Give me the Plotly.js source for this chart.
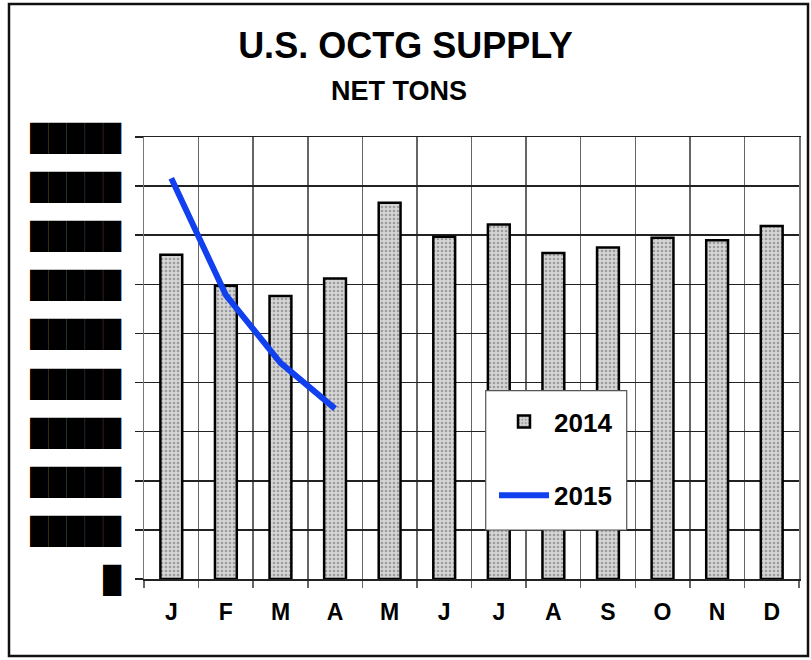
<!DOCTYPE html>
<html>
<head>
<meta charset="utf-8">
<script src="https://cdn.plot.ly/plotly-3.0.1.min.js"></script>
<style>html,body{margin:0;padding:0;background:#fff;}#chart{width:811px;height:660px;}</style>
</head>
<body>
<div id="chart"></div>
<script>
// Data
const months = ['Jan','Feb','Mar','Apr','May','Jun','Jul','Aug','Sep','Oct','Nov','Dec'];
const monthLabels = ['J','F','M','A','M','J','J','A','S','O','N','D'];
const supply2014 = [660000, 597000, 576000, 612000, 766000, 697000, 722000, 664000, 675000, 695000, 690000, 719000];
const months2015 = ['Jan','Feb','Mar','Apr'];
const supply2015 = [816000, 578000, 440000, 347000];
const yTickVals = [0, 100000, 200000, 300000, 400000, 500000, 600000, 700000, 800000, 900000];
// tick labels are redacted (blacked out) in the source image
const B5 = '\u2588\u2588\u2588\u2588\u2588';
const yTickText = ['\u2588', B5, B5, B5, B5, B5, B5, B5, B5, B5];

const FONT = 'Liberation Sans, Arial, sans-serif';

const traces = [
  {
    type: 'bar', name: '2014', x: months, y: supply2014,
    legendgroup: 'a',
    marker: {
      color: '#d4d4d4',
      line: {color: '#000', width: 2.5},
      pattern: {shape: '.', bgcolor: '#d6d6d6', fgcolor: '#9c9c9c', size: 4, solidity: 0.35, fillmode: 'replace'}
    },
    hoverinfo: 'x+y'
  },
  {
    type: 'scatter', mode: 'lines', name: '2015', x: months2015, y: supply2015,
    legendgroup: 'b',
    line: {color: '#1141ee', width: 6}
  }
];

const layout = {
  width: 811, height: 660,
  margin: {l: 144, r: 12, t: 137, b: 81},
  paper_bgcolor: '#fff', plot_bgcolor: '#fff',
  font: {family: FONT, color: '#000'},
  bargap: 0.6,
  title: {
    text: 'U.S. OCTG SUPPLY',
    font: {family: FONT, size: 36, weight: 700, color: '#000'},
    x: 0.5, xref: 'container', xanchor: 'center',
    y: 1 - 45/660, yref: 'container', yanchor: 'middle'
  },
  annotations: [{
    text: 'NET TONS', showarrow: false,
    xref: 'paper', yref: 'paper',
    x: (398.5 - 144)/655, y: (579 - 91)/442,
    xanchor: 'center', yanchor: 'middle',
    font: {family: FONT, size: 27, weight: 700, color: '#000'}
  }],
  xaxis: {
    type: 'category',
    tickmode: 'array', tickvals: months, ticktext: monthLabels,
    tickson: 'boundaries',
    ticks: 'outside', ticklen: 7, tickcolor: '#666', tickwidth: 1.5,
    showgrid: true, gridcolor: '#666', gridwidth: 1.5,
    showline: true, linecolor: '#222', linewidth: 1.5, mirror: true,
    tickfont: {family: FONT, size: 23, weight: 700, color: '#000'},
    ticklabelstandoff: 12,
    range: [-0.5, 11.5], fixedrange: true
  },
  yaxis: {
    range: [0, 900000],
    tickmode: 'array', tickvals: yTickVals, ticktext: yTickText,
    ticks: 'outside', ticklen: 8, tickcolor: '#222', tickwidth: 1.5,
    showgrid: true, gridcolor: '#222', gridwidth: 1.5,
    showline: true, linecolor: '#777', linewidth: 1.5, mirror: true,
    zeroline: false,
    tickfont: {family: 'Liberation Sans', size: 25.8, color: '#000'},
    ticklabelstandoff: 8,
    fixedrange: true
  },
  showlegend: true,
  legend: {
    x: (494 - 144)/655, y: (579 - 398)/442, xanchor: 'left', yanchor: 'top',
    bgcolor: 'rgba(0,0,0,0)', borderwidth: 0,
    traceorder: 'grouped', tracegroupgap: 37,
    itemwidth: 50,
    font: {family: FONT, size: 26, weight: 700, color: '#000'}
  },
  shapes: [
    {type: 'rect', xref: 'paper', yref: 'paper',
     x0: (485.7 - 144)/655, x1: (626.7 - 144)/655,
     y0: (579 - 530)/442, y1: (579 - 390.7)/442,
     fillcolor: '#fff', line: {color: '#555', width: 1.2}, layer: 'above'},
    {type: 'rect', xref: 'paper', yref: 'paper',
     x0: (9 - 144)/655, x1: (808 - 144)/655,
     y0: (579 - 656)/442, y1: (579 - 4)/442,
     fillcolor: 'rgba(0,0,0,0)', line: {color: '#111', width: 2.5}, layer: 'above'}
  ]
};

Plotly.newPlot('chart', traces, layout, {displayModeBar: false, staticPlot: true});
</script>
</body>
</html>
